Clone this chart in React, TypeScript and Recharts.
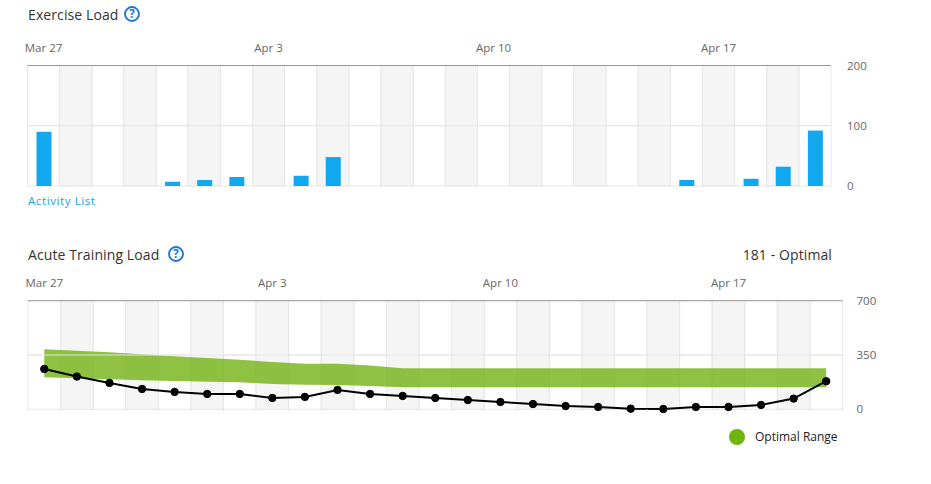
import React from "react";
import {
  Area,
  Bar,
  BarChart,
  CartesianGrid,
  ComposedChart,
  Line,
  ReferenceArea,
  ReferenceLine,
  XAxis,
  YAxis,
} from "recharts";

const days = [
  "Mar 27", "Mar 28", "Mar 29", "Mar 30", "Mar 31", "Apr 1", "Apr 2", "Apr 3", "Apr 4",
  "Apr 5", "Apr 6", "Apr 7", "Apr 8", "Apr 9", "Apr 10", "Apr 11", "Apr 12", "Apr 13",
  "Apr 14", "Apr 15", "Apr 16", "Apr 17", "Apr 18", "Apr 19", "Apr 20",
];
const exerciseLoad = [90, 0, 0, 0, 7, 10, 15, 0, 17, 48, 0, 0, 0, 0, 0, 0, 0, 0, 0, 0, 10, 0, 12, 32, 92];
const acuteLoad = [260, 211, 170, 131, 112, 99, 99, 73, 80, 125, 99, 86, 73, 60, 47, 34, 21, 15, 4, 2, 15, 15, 28, 69, 181];
const rangeHigh = [387, 378, 367, 355, 342, 331, 320, 305, 294, 294, 282, 264, 264, 264, 264, 264, 264, 264, 264, 264, 264, 264, 264, 264, 264];
const rangeLow = [206, 200, 193, 187, 183, 178, 174, 163, 159, 157, 150, 142, 142, 142, 142, 142, 142, 142, 142, 142, 142, 142, 142, 142, 142];

const labelTicks = [0.5, 7.5, 14.5, 21.5];
const gridTicks = days.map((_, i) => i).concat(days.length);
const shadedDays = days.map((_, i) => i).filter((i) => i % 2 === 1);

const loadData = days.map((day, i) => ({ x: i + 0.5, day, load: exerciseLoad[i] }));
const acuteData = days.map((day, i) => ({
  x: i + 0.5,
  day,
  acute: acuteLoad[i],
  range: [rangeLow[i], rangeHigh[i]],
}));

const FONT = "'Open Sans', sans-serif";
const tickStyle = { fontFamily: FONT, fontSize: 11.5, fill: "#666" };
const titleStyle: React.CSSProperties = {
  position: "absolute",
  fontFamily: FONT,
  fontSize: 14,
  letterSpacing: 0.1,
  color: "#333",
  whiteSpace: "nowrap",
  lineHeight: "20px",
};

const HelpIcon = ({ x, y }: { x: number; y: number }) => (
  <svg width={18} height={18} style={{ position: "absolute", left: x - 9, top: y - 9 }}>
    <circle cx={9} cy={9} r={7} fill="#fff" stroke="#2176d2" strokeWidth={1.9} />
    <text x={9} y={13} textAnchor="middle" fontFamily={FONT} fontSize={11.5} fontWeight={700} fill="#2176d2">
      ?
    </text>
  </svg>
);

const stripes = () =>
  shadedDays.map((i) => (
    <ReferenceArea
      key={i}
      x1={i}
      x2={i + 1}
      yAxisId="val"
      xAxisId="grid"
      fill="#f5f5f5"
      fillOpacity={1}
      stroke="#e6e6e6"
      strokeWidth={1}
    />
  ));

export default function App() {
  return (
    <div style={{ position: "absolute", left: 0, top: 0, width: 931, height: 484, background: "#fff", overflow: "hidden" }}>
      <div style={{ ...titleStyle, left: 28, top: 5 }}>Exercise Load</div>
      <HelpIcon x={132} y={14} />

      <div style={{ position: "absolute", left: 0, top: 0 }}>
        <BarChart
          width={931}
          height={200}
          data={loadData}
          margin={{ top: 40.5, right: 40, bottom: 14, left: 27.5 }}
        >
          {stripes()}
          <CartesianGrid xAxisId="grid" yAxisId="val" stroke="#e6e6e6" />
          <ReferenceLine y={100} xAxisId="grid" yAxisId="val" stroke="#e6e6e6" />
          <XAxis
            xAxisId="grid"
            type="number"
            dataKey="x"
            domain={[0, 25]}
            ticks={gridTicks}
            interval={0}
            hide
          />
          <XAxis
            xAxisId="top"
            orientation="top"
            type="number"
            dataKey="x"
            domain={[0, 25]}
            ticks={labelTicks}
            interval={0}
            height={25}
            tickLine={false}
            tickMargin={8}
            axisLine={{ stroke: "#999" }}
            tick={tickStyle}
            tickFormatter={(v: number) => days[Math.floor(v)]}
          />
          <YAxis
            yAxisId="val"
            orientation="right"
            domain={[0, 200]}
            ticks={[0, 100, 200]}
            width={60}
            tickLine={false}
            axisLine={false}
            tickMargin={10}
            tick={{ ...tickStyle, textAnchor: "start" }}
          />
          <Bar dataKey="load" xAxisId="grid" yAxisId="val" fill="#12a8ef" barSize={15} isAnimationActive={false} />
        </BarChart>
      </div>

      <div style={{ position: "absolute", left: 28, top: 193, fontFamily: FONT, fontSize: 11.5, color: "#1ba1e8", letterSpacing: 0.6, lineHeight: "16px" }}>
        Activity List
      </div>

      <div style={{ ...titleStyle, left: 28, top: 245 }}>Acute Training Load</div>
      <HelpIcon x={176} y={254} />
      <div style={{ ...titleStyle, right: 99, top: 245 }}>181 - Optimal</div>

      <div style={{ position: "absolute", left: 0, top: 235 }}>
        <ComposedChart
          width={931}
          height={190}
          data={acuteData}
          margin={{ top: 40.7, right: 28.5, bottom: 10.7, left: 28 }}
        >
          {stripes()}
          <CartesianGrid xAxisId="grid" yAxisId="val" stroke="#e6e6e6" />
          <ReferenceLine y={350} xAxisId="grid" yAxisId="val" stroke="#e6e6e6" />
          <XAxis
            xAxisId="grid"
            type="number"
            dataKey="x"
            domain={[0, 25]}
            ticks={gridTicks}
            interval={0}
            height={5}
            tickSize={2}
            tickLine={{ stroke: "#e6e6e6" }}
            axisLine={false}
            tickFormatter={() => ""}
          />
          <XAxis
            xAxisId="top"
            orientation="top"
            type="number"
            dataKey="x"
            domain={[0, 25]}
            ticks={labelTicks}
            interval={0}
            height={25}
            tickLine={false}
            tickMargin={8}
            axisLine={{ stroke: "#999" }}
            tick={tickStyle}
            tickFormatter={(v: number) => days[Math.floor(v)]}
          />
          <YAxis
            yAxisId="val"
            orientation="right"
            domain={[0, 700]}
            ticks={[0, 350, 700]}
            width={60}
            tickLine={false}
            axisLine={false}
            tickMargin={8}
            tick={{ ...tickStyle, textAnchor: "start" }}
          />
          <Area
            dataKey="range"
            xAxisId="grid"
            yAxisId="val"
            type="linear"
            fill="#76b41a"
            fillOpacity={0.82}
            stroke="none"
            dot={false}
            activeDot={false}
            isAnimationActive={false}
          />
          <Line
            dataKey="acute"
            xAxisId="grid"
            yAxisId="val"
            type="linear"
            stroke="#000"
            strokeWidth={2}
            dot={{ r: 3.7, fill: "#000", stroke: "#000", strokeWidth: 1 }}
            isAnimationActive={false}
          />
        </ComposedChart>
      </div>

      <div style={{ position: "absolute", left: 729, top: 429, width: 16, height: 16, borderRadius: 8, background: "#6fb50f" }} />
      <div style={{ position: "absolute", left: 755, top: 429, fontFamily: FONT, fontSize: 12, color: "#222", lineHeight: "16px", whiteSpace: "nowrap" }}>
        Optimal Range
      </div>
    </div>
  );
}
